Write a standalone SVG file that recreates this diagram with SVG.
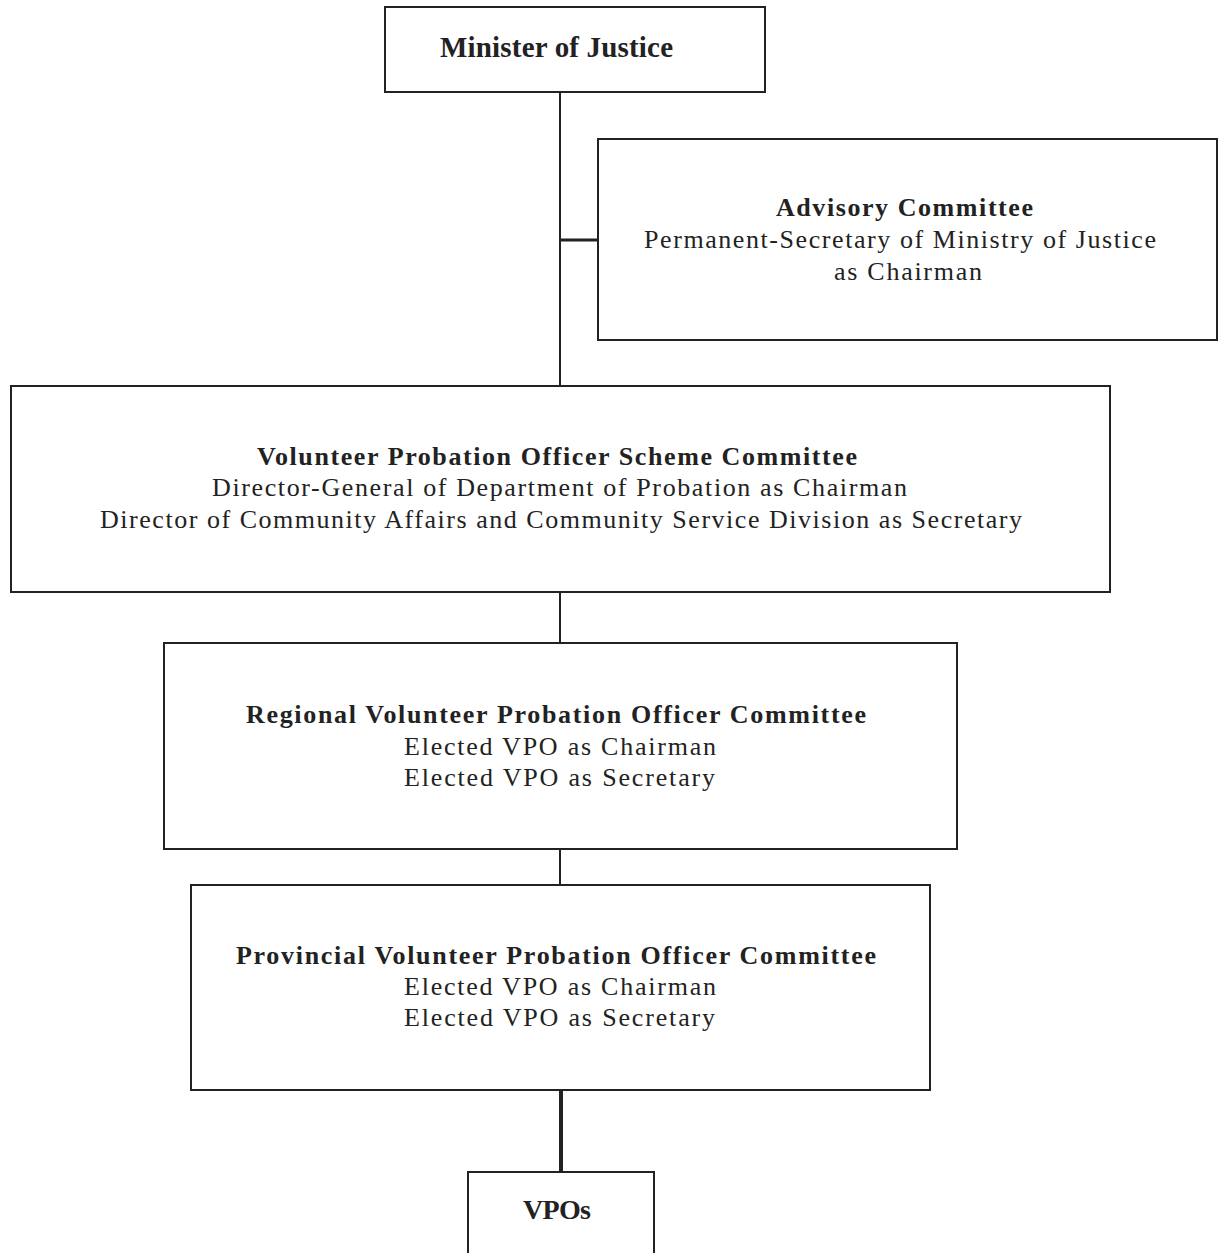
<svg xmlns="http://www.w3.org/2000/svg" width="1219" height="1253" viewBox="0 0 1219 1253">
<style>
.box{fill:#fff;stroke:#222;stroke-width:2}
.t{font-family:"Liberation Serif","Times New Roman",serif;font-size:26px;fill:#222}
.b{font-weight:bold}
.c{stroke:#222;stroke-width:2;fill:none}
</style>
<rect width="1219" height="1253" fill="#fff"/>
<g id="connectors">
<line class="c" x1="560" y1="92" x2="560" y2="386"/>
<line class="c" x1="560" y1="240" x2="598" y2="240" style="stroke-width:3"/>
<line class="c" x1="560" y1="592" x2="560" y2="643"/>
<line class="c" x1="560" y1="849" x2="560" y2="885"/>
<line class="c" x1="561" y1="1090" x2="561" y2="1172" style="stroke-width:4"/>
</g>
<g id="minister">
<rect class="box" x="385" y="7" width="380" height="85"/>
<text class="t b" x="440" y="57" textLength="233" style="font-size:29px">Minister of Justice</text>
</g>
<g id="advisory">
<rect class="box" x="598" y="139" width="619" height="201"/>
<text class="t b" x="776" y="216" textLength="257">Advisory Committee</text>
<text class="t" x="644" y="248" textLength="512">Permanent-Secretary of Ministry of Justice</text>
<text class="t" x="834" y="280" textLength="148">as Chairman</text>
</g>
<g id="scheme">
<rect class="box" x="11" y="386" width="1099" height="206"/>
<text class="t b" x="257" y="465" textLength="600">Volunteer Probation Officer Scheme Committee</text>
<text class="t" x="212" y="496" textLength="695">Director-General of Department of Probation as Chairman</text>
<text class="t" x="100" y="528" textLength="922">Director of Community Affairs and Community Service Division as Secretary</text>
</g>
<g id="regional">
<rect class="box" x="164" y="643" width="793" height="206"/>
<text class="t b" x="246" y="723" textLength="620">Regional Volunteer Probation Officer Committee</text>
<text class="t" x="404" y="755" textLength="312">Elected VPO as Chairman</text>
<text class="t" x="404" y="786" textLength="311">Elected VPO as Secretary</text>
</g>
<g id="provincial">
<rect class="box" x="191" y="885" width="739" height="205"/>
<text class="t b" x="236" y="964" textLength="640">Provincial Volunteer Probation Officer Committee</text>
<text class="t" x="404" y="995" textLength="312">Elected VPO as Chairman</text>
<text class="t" x="404" y="1026" textLength="311">Elected VPO as Secretary</text>
</g>
<g id="vpos">
<rect class="box" x="468" y="1172" width="186" height="100"/>
<text class="t b" x="523" y="1219" textLength="68" style="font-size:28px">VPOs</text>
</g>
</svg>
